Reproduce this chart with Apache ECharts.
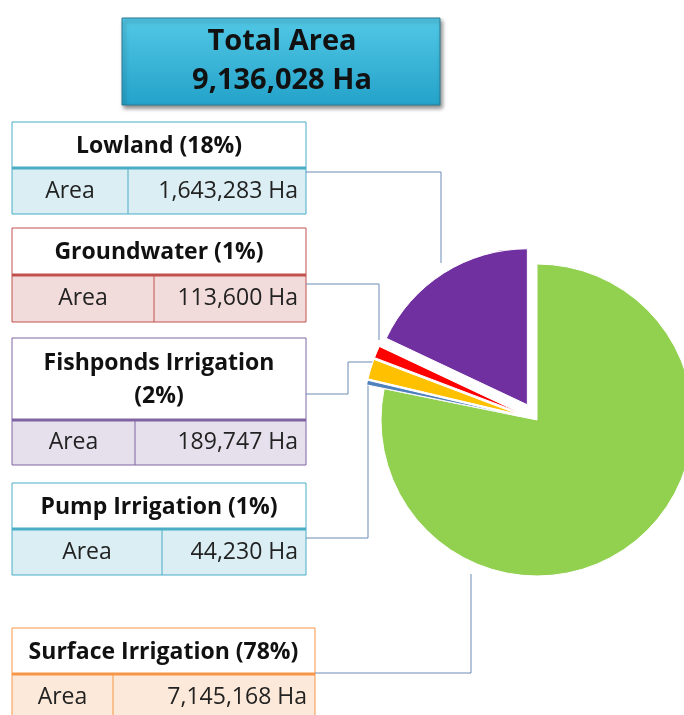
<!DOCTYPE html>
<html>
<head>
<meta charset="utf-8">
<script src="https://cdn.jsdelivr.net/npm/echarts@6/dist/echarts.min.js"></script>
<style>
html,body{margin:0;padding:0;background:#fff;}
#chart{width:684px;height:715px;}
</style>
</head>
<body>
<div id="chart"></div>
<script>
// categories in clockwise order from 12 o'clock
var categories = ["Surface Irrigation", "Pump Irrigation", "Fishponds Irrigation", "Groundwater", "Lowland"];
var areaValues = [7145168, 44230, 189747, 113600, 1643283];
var pctLabels = ["78%", "1%", "2%", "1%", "18%"];
var exploded = [false, true, true, true, true];

var sliceColors = ["#92D050", "#4F81BD", "#FFC000", "#FF0000", "#7030A0"];
var borderColors = ["#F79646", "#4BACC6", "#8064A2", "#C0504D", "#4BACC6"];
var fillColors = ["#FDE9D9", "#DAEEF3", "#E5E0EC", "#F2DCDB", "#DAEEF3"];
var fontFam = "'Open Sans', Lato, sans-serif";

function fmt(n){ return n.toLocaleString("en-US"); }
var total = 0;
for (var i = 0; i < areaValues.length; i++) total += areaValues[i];

// table boxes: index into categories, x, y, width, header height, row height, divider x
var tables = [
	{idx:4, x:12, y:122, w:294, hh:46, rh:46, div:128},
	{idx:3, x:12, y:228, w:294, hh:47, rh:47, div:154},
	{idx:2, x:12, y:338, w:294, hh:82, rh:45, div:135},
	{idx:1, x:12, y:483, w:294, hh:46, rh:46, div:162},
	{idx:0, x:12, y:628, w:303, hh:46, rh:46, div:113}
];
// connector lines from each table to its slice
var connectors = [
	[[306,172],[441,172],[441,263]],
	[[306,284],[379,284],[379,340]],
	[[306,394],[348,394],[348,362],[378,362]],
	[[306,538],[368,538],[368,383]],
	[[315,673],[471,673],[471,574]]
];

function buildTable(t){
	var bc = borderColors[t.idx];
	var title = categories[t.idx] + " (" + pctLabels[t.idx] + ")";
	if (t.idx === 2) title = categories[t.idx] + "\n(" + pctLabels[t.idx] + ")";
	var rowY = t.y + t.hh;
	return {
		type: "group",
		children: [
			{type:"rect", shape:{x:t.x, y:t.y, width:t.w, height:t.hh}, style:{fill:"#fff", stroke:bc, lineWidth:1}},
			{type:"rect", shape:{x:t.x, y:rowY, width:t.w, height:t.rh}, style:{fill:fillColors[t.idx], stroke:bc, lineWidth:1}},
			{type:"line", shape:{x1:t.x, y1:rowY, x2:t.x + t.w, y2:rowY}, style:{stroke:bc, lineWidth:3}},
			{type:"line", shape:{x1:t.div, y1:rowY, x2:t.div, y2:rowY + t.rh}, style:{stroke:bc, lineWidth:1}},
			{type:"text", x:t.x + t.w / 2, y:t.y + t.hh / 2 + 1, style:{text:title, fill:"#111", font:"bold 23px " + fontFam, align:"center", verticalAlign:"middle", lineHeight:33}},
			{type:"text", x:(t.x + t.div) / 2, y:rowY + t.rh / 2, style:{text:"Area", fill:"#222", font:"23px " + fontFam, align:"center", verticalAlign:"middle"}},
			{type:"text", x:t.x + t.w - 8, y:rowY + t.rh / 2, style:{text:fmt(areaValues[t.idx]) + " Ha", fill:"#222", font:"23px " + fontFam, align:"right", verticalAlign:"middle"}}
		]
	};
}

var graphics = [];
for (var j = 0; j < connectors.length; j++) {
	graphics.push({type:"polyline", shape:{points:connectors[j]}, style:{stroke:"#6A8BB5", lineWidth:1, fill:null}, z:1});
}
for (var k = 0; k < tables.length; k++) graphics.push(buildTable(tables[k]));
graphics.push({
	type:"rect", shape:{x:122, y:18, width:318, height:87},
	style:{
		fill:new echarts.graphic.LinearGradient(0, 0, 0, 1, [{offset:0, color:"#52C8E6"}, {offset:1, color:"#24A2C9"}]),
		stroke:"#2A7A93", lineWidth:1,
		shadowBlur:4, shadowOffsetX:2, shadowOffsetY:3, shadowColor:"rgba(0,0,0,0.45)"
	}
});
graphics.push({type:"text", x:282, y:61, style:{text:"Total Area\n" + fmt(total) + " Ha", fill:"#111", font:"bold 29px " + fontFam, align:"center", verticalAlign:"middle", lineHeight:39}});

var pieData = [];
for (var m = 0; m < categories.length; m++) {
	pieData.push({name:categories[m], value:areaValues[m], selected:exploded[m], itemStyle:{color:sliceColors[m]}});
}

var chart = echarts.init(document.getElementById("chart"));
chart.setOption({
	animation:false,
	graphic:graphics,
	series:[{
		type:"pie",
		center:[537, 420],
		radius:[0, 156],
		startAngle:90,
		clockwise:true,
		selectedMode:"multiple",
		selectedOffset:18,
		avoidLabelOverlap:false,
		label:{show:false},
		labelLine:{show:false},
		emphasis:{disabled:true},
		itemStyle:{borderColor:"#fff", borderWidth:1},
		data:pieData
	}]
});
</script>
</body>
</html>
